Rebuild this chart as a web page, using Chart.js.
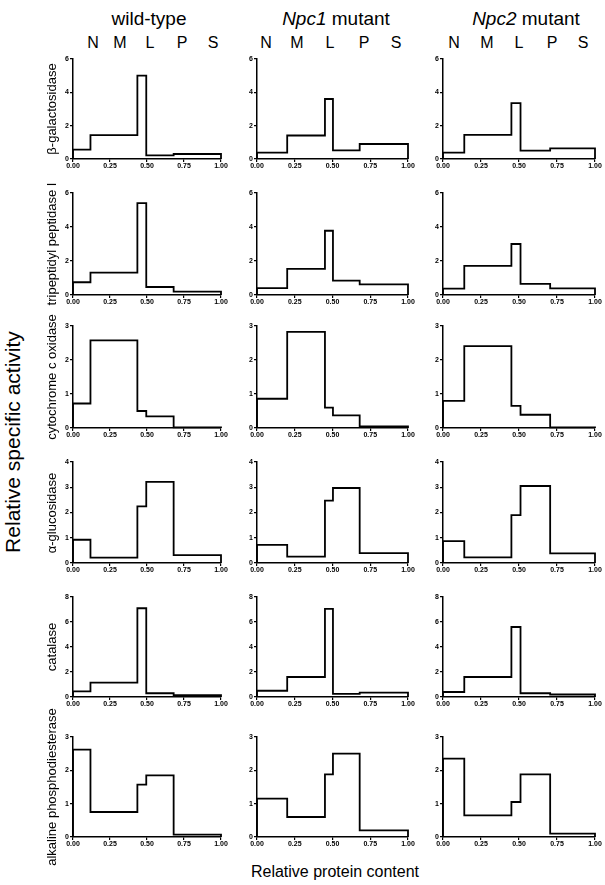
<!DOCTYPE html>
<html>
<head>
<meta charset="utf-8">
<script src="https://cdn.jsdelivr.net/npm/chart.js@4/dist/chart.umd.min.js"></script>
<style>
  body { margin: 0; background: #fff; font-family: Arial, "Liberation Sans", sans-serif; }
  #fig { position: relative; width: 605px; height: 885px; overflow: hidden; }
  canvas { position: absolute; }
  .t { position: absolute; white-space: nowrap; color: #000; line-height: 1; }
</style>
</head>
<body>
<div id="fig"></div>
<script>
const groups = ["wild-type", "Npc1 mutant", "Npc2 mutant"];
const fractions = ["N", "M", "L", "P", "S"];
const enzymes = ["β-galactosidase", "tripeptidyl peptidase I", "cytochrome c oxidase",
  "α-glucosidase", "catalase", "alkaline phosphodiesterase"];
const xTicks = [0, 0.25, 0.5, 0.75, 1];
const yMax = [6, 6, 3, 4, 8, 3];
const yStep = [2, 2, 1, 1, 2, 1];

// cumulative relative protein content at the right edge of N, M, L, P (S ends at 1)
const edgesWT = [0.118, 0.435, 0.495, 0.68];
const edgesNpc1 = [0.2, 0.45, 0.503, 0.68];
const edgesNpc2 = [0.14, 0.45, 0.51, 0.705];

// relative specific activity of fractions N, M, L, P, S
const betaGalWT = [0.56, 1.43, 5.0, 0.22, 0.3];
const betaGalNpc1 = [0.38, 1.41, 3.6, 0.52, 0.9];
const betaGalNpc2 = [0.38, 1.45, 3.35, 0.5, 0.64];
const tppWT = [0.75, 1.32, 5.4, 0.47, 0.2];
const tppNpc1 = [0.41, 1.54, 3.78, 0.85, 0.63];
const tppNpc2 = [0.37, 1.71, 3.0, 0.65, 0.39];
const coxWT = [0.72, 2.58, 0.5, 0.34, 0.02];
const coxNpc1 = [0.86, 2.83, 0.6, 0.37, 0.05];
const coxNpc2 = [0.8, 2.41, 0.65, 0.39, 0.02];
const aGluWT = [0.92, 0.21, 2.24, 3.21, 0.31];
const aGluNpc1 = [0.72, 0.25, 2.47, 2.97, 0.39];
const aGluNpc2 = [0.87, 0.22, 1.9, 3.05, 0.38];
const catalaseWT = [0.45, 1.15, 7.1, 0.3, 0.15];
const catalaseNpc1 = [0.5, 1.6, 7.05, 0.25, 0.35];
const catalaseNpc2 = [0.4, 1.6, 5.6, 0.3, 0.2];
const alkPdeWT = [2.62, 0.75, 1.57, 1.85, 0.07];
const alkPdeNpc1 = [1.15, 0.6, 1.88, 2.5, 0.2];
const alkPdeNpc2 = [2.35, 0.65, 1.05, 1.88, 0.1];

const edges = [edgesWT, edgesNpc1, edgesNpc2];
const activity = [
  [betaGalWT, betaGalNpc1, betaGalNpc2],
  [tppWT, tppNpc1, tppNpc2],
  [coxWT, coxNpc1, coxNpc2],
  [aGluWT, aGluNpc1, aGluNpc2],
  [catalaseWT, catalaseNpc1, catalaseNpc2],
  [alkPdeWT, alkPdeNpc1, alkPdeNpc2]
];

// panel placement (plot area in page pixels)
const colLeft = [73, 257, 443];
const colW = [148, 151, 152];
const rowTop = [59, 193, 326, 462, 597, 737];
const rowBottom = [159, 295, 428, 563, 697, 837];
const fracX = [
  [93, 120, 150, 182, 213],
  [266, 297, 330, 364, 396],
  [454, 487, 519, 552, 583]
];

const fig = document.getElementById("fig");

function addText(html, x, y, size, rotate) {
  const d = document.createElement("div");
  d.className = "t";
  d.innerHTML = html;
  d.style.left = x + "px";
  d.style.top = y + "px";
  d.style.fontSize = size + "px";
  d.style.transform = "translate(-50%,-50%)" + (rotate ? " rotate(-90deg)" : "");
  fig.appendChild(d);
}

function outline(e, h) {
  const b = [0, ...e, 1];
  const pts = [{ x: 0, y: 0 }];
  h.forEach((v, i) => {
    pts.push({ x: b[i], y: v });
    pts.push({ x: b[i + 1], y: v });
  });
  pts.push({ x: 1, y: 0 });
  return pts;
}

const tickFont = { size: 7, weight: "bold", family: "Arial" };
const YW = 24, XH = 14, PT = 6, PR = 10;

for (let r = 0; r < 6; r++) {
  for (let c = 0; c < 3; c++) {
    const cv = document.createElement("canvas");
    const w = colW[c] + YW + PR;
    const h = rowBottom[r] - rowTop[r] + PT + XH;
    cv.width = w;
    cv.height = h;
    cv.style.left = (colLeft[c] - YW) + "px";
    cv.style.top = (rowTop[r] - PT) + "px";
    fig.appendChild(cv);

    new Chart(cv.getContext("2d"), {
      type: "line",
      data: {
        datasets: [{
          data: outline(edges[c], activity[r][c]),
          borderColor: "#000",
          borderWidth: 1.8,
          pointRadius: 0,
          tension: 0,
          fill: false,
          clip: false
        }]
      },
      options: {
        responsive: false,
        animation: false,
        layout: { padding: { top: PT, right: PR, left: 0, bottom: 0 } },
        plugins: { legend: { display: false }, tooltip: { enabled: false } },
        scales: {
          x: {
            type: "linear",
            min: 0,
            max: 1,
            afterFit: s => { s.height = XH; },
            afterBuildTicks: s => { s.ticks = xTicks.map(v => ({ value: v })); },
            border: { color: "#000", width: 1.5 },
            grid: { drawOnChartArea: false, color: "#000", tickLength: 3, lineWidth: 1.2 },
            ticks: { color: "#000", font: tickFont, padding: 0, maxRotation: 0, autoSkip: false,
              callback: v => v.toFixed(2) }
          },
          y: {
            min: 0,
            max: yMax[r],
            afterFit: s => { s.width = YW; },
            border: { color: "#000", width: 1.5 },
            grid: { drawOnChartArea: false, color: "#000", tickLength: 3, lineWidth: 1.2 },
            ticks: { color: "#000", font: tickFont, padding: 1, stepSize: yStep[r] }
          }
        }
      }
    });
  }
}

// column titles and fraction letters
addText(groups[0], 149, 18, 19);
addText("<i>Npc1</i> mutant", 336, 18, 19);
addText("<i>Npc2</i> mutant", 526, 18, 19);
for (let c = 0; c < 3; c++) {
  fractions.forEach((f, i) => addText(f, fracX[c][i], 43, 16));
}

// enzyme labels
enzymes.forEach((name, r) => {
  addText(name, 51, (rowTop[r] + rowBottom[r]) / 2, 13, true);
});

addText("Relative specific activity", 12, 442, 21, true);
addText("Relative protein content", 335, 872, 16);
</script>
</body>
</html>
